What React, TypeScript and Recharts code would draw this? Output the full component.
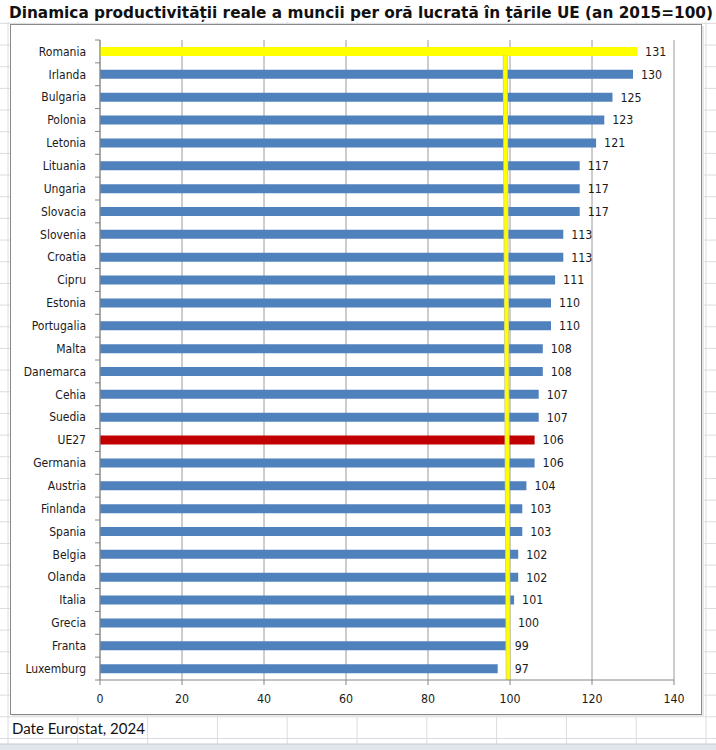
import React from 'react';
import { BarChart, Bar, XAxis, YAxis, CartesianGrid, Cell, LabelList, ReferenceLine } from 'recharts';

const countries = [
  'Romania', 'Irlanda', 'Bulgaria', 'Polonia', 'Letonia', 'Lituania', 'Ungaria', 'Slovacia',
  'Slovenia', 'Croatia', 'Cipru', 'Estonia', 'Portugalia', 'Malta', 'Danemarca', 'Cehia',
  'Suedia', 'UE27', 'Germania', 'Austria', 'Finlanda', 'Spania', 'Belgia', 'Olanda',
  'Italia', 'Grecia', 'Franta', 'Luxemburg',
];
const values = [
  131, 130, 125, 123, 121, 117, 117, 117,
  113, 113, 111, 110, 110, 108, 108, 107,
  107, 106, 106, 104, 103, 103, 102, 102,
  101, 100, 99, 97,
];
const xTicks = [0, 20, 40, 60, 80, 100, 120, 140];
const highlightColors: Record<string, string> = { Romania: '#FFFF00', UE27: '#C00000' };
const REF_X = 99.2;

const TITLE = 'Dinamica productivității reale a muncii per oră lucrată în țările UE (an 2015=100)';
const SOURCE = 'Date Eurostat, 2024';

const BLUE = '#4F81BD';
const W = 716;
const H = 750;
const PLOT_TOP = 40;
const PLOT_BOTTOM = 680;
const BAND = (PLOT_BOTTOM - PLOT_TOP) / countries.length;
const FONT = '"DejaVu Sans Condensed", "DejaVu Sans", sans-serif';

const data = countries.map((name, i) => ({ name, value: values[i] }));

const colLines = Array.from({ length: 11 }, (_, k) => 8 + 69.8 * k);
const rowLines = Array.from({ length: 35 }, (_, k) => 1.7 + 21.67 * k);

const YTick = (props: any) => {
  const { x, y, payload, index } = props;
  const last = index === countries.length - 1;
  return (
    <g>
      <line x1={x - 5} x2={x} y1={y - BAND / 2} y2={y - BAND / 2} stroke="#868686" strokeWidth={1} />
      {last && <line x1={x - 5} x2={x} y1={y + BAND / 2} y2={y + BAND / 2} stroke="#868686" strokeWidth={1} />}
      <text x={x - 14} y={y} dy="0.36em" textAnchor="end" fontFamily={FONT} fontSize={12} fill="#1a1a1a">
        {payload.value}
      </text>
    </g>
  );
};

const ValueLabel = (props: any) => {
  const { x, y, width, height, value } = props;
  const end = x + width;
  const lineX = x + (REF_X * width) / value;
  const lx = Math.max(end + 8, lineX + 8);
  return (
    <text x={lx} y={y + height / 2} dy="0.36em" fontFamily={FONT} fontSize={12.3} fill="#1a1a1a">
      {value}
    </text>
  );
};

const RefShape = (p: any) => {
  const top = Math.min(p.y1, p.y2) + BAND * 0.67;
  const bottom = Math.max(p.y1, p.y2);
  const xm = p.x1;
  return (
    <g>
      <line x1={xm - 1.5} y1={top} x2={xm + 1.5} y2={bottom} stroke="#c9c98f" strokeWidth={5} />
      <line x1={xm - 1.5} y1={top} x2={xm + 1.5} y2={bottom} stroke="#FFFF00" strokeWidth={3.5} />
    </g>
  );
};

export default function App() {
  return (
    <div style={{ position: 'absolute', left: 0, top: 0, width: W, height: H, background: '#ffffff', overflow: 'hidden' }}>
      <svg width={W} height={H} style={{ position: 'absolute', left: 0, top: 0 }}>
        {colLines.map((x, i) => (
          <line key={'c' + i} x1={x} x2={x} y1={0} y2={744} stroke="#dadcdf" strokeWidth={1} />
        ))}
        {rowLines.map((y, i) => (
          <line key={'r' + i} x1={0} x2={W} y1={y} y2={y} stroke="#dadcdf" strokeWidth={1} />
        ))}
        <rect x={0} y={744} width={W} height={6} fill="#e1e6ec" />
        <line x1={0} x2={W} y1={744} y2={744} stroke="#c3c9d1" strokeWidth={1} />
        <rect x={12} y={26} width={692} height={691} fill="#e6e6e6" />
        <rect x={10.5} y={24.5} width={691} height={690} fill="#ffffff" stroke="#8a8a8a" strokeWidth={1} />
      </svg>
      <div style={{ position: 'absolute', left: 0, top: 0 }}>
        <BarChart
          width={W}
          height={H}
          data={data}
          layout="vertical"
          margin={{ top: PLOT_TOP, right: 42, bottom: 40, left: 8 }}
          barSize={9}
        >
          <CartesianGrid horizontal={false} vertical={true} stroke="#9a9a9a" strokeWidth={1} />
          <XAxis
            type="number"
            domain={[0, 140]}
            ticks={xTicks}
            interval={0}
            height={30}
            tickSize={5}
            tickMargin={9}
            axisLine={{ stroke: '#868686' }}
            tickLine={{ stroke: '#868686' }}
            tick={{ fontFamily: FONT, fontSize: 12.3, fill: '#1a1a1a' }}
          />
          <YAxis
            type="category"
            dataKey="name"
            width={92}
            interval={0}
            tickSize={0}
            tickMargin={0}
            tickLine={false}
            axisLine={{ stroke: '#868686' }}
            tick={<YTick />}
          />
          <Bar dataKey="value" isAnimationActive={false}>
            {data.map((d, i) => (
              <Cell key={i} fill={highlightColors[d.name] || BLUE} />
            ))}
            <LabelList dataKey="value" content={<ValueLabel />} />
          </Bar>
          <ReferenceLine x={REF_X} stroke="#FFFF00" strokeWidth={4} shape={RefShape} ifOverflow="visible" />
        </BarChart>
      </div>
      <svg width={W} height={H} style={{ position: 'absolute', left: 0, top: 0, pointerEvents: 'none' }}>
        <rect x={0} y={0} width={W} height={22} fill="#ffffff" />
        <text
          x={9}
          y={17.5}
          fontFamily={FONT}
          fontWeight="bold"
          fontSize={16.5}
          fill="#111111"
          textLength={704}
          lengthAdjust="spacingAndGlyphs"
        >
          {TITLE}
        </text>
        <text
          x={12}
          y={734}
          fontFamily='Lato, "Liberation Sans", sans-serif'
          fontSize={14.5}
          fill="#111111"
          textLength={133}
          lengthAdjust="spacingAndGlyphs"
        >
          {SOURCE}
        </text>
      </svg>
    </div>
  );
}
